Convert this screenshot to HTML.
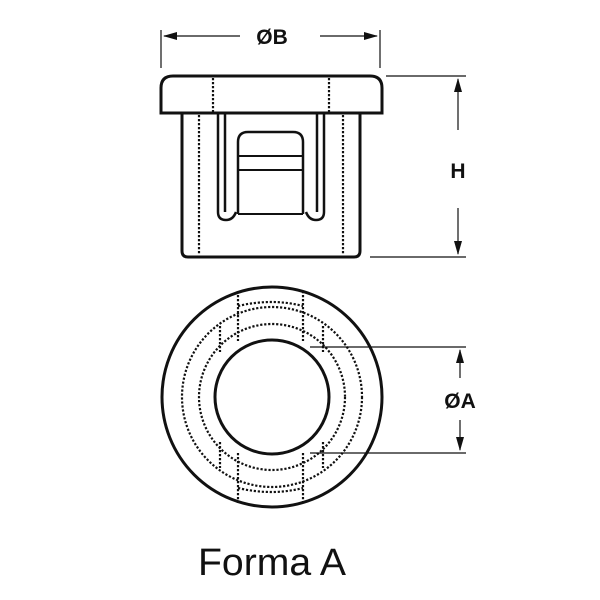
<!DOCTYPE html>
<html><head><style>body{margin:0;background:#fff}svg{display:block}</style></head><body>
<svg width="600" height="600" viewBox="0 0 600 600" xmlns="http://www.w3.org/2000/svg">
<defs><marker id="a" markerWidth="14" markerHeight="8" refX="13" refY="4" orient="auto" markerUnits="userSpaceOnUse"><path d="M0,0 L14,4 L0,8 Z" fill="#111"/></marker></defs>
<g fill="none" stroke="#111">
<line x1="161" y1="30" x2="161" y2="68" stroke-width="1.2"/>
<line x1="380" y1="30" x2="380" y2="68" stroke-width="1.2"/>
<line x1="240" y1="36" x2="164" y2="36" stroke-width="1.2" marker-end="url(#a)"/>
<line x1="320" y1="36" x2="377" y2="36" stroke-width="1.2" marker-end="url(#a)"/>
<line x1="386" y1="76" x2="466" y2="76" stroke-width="1.2"/>
<line x1="370" y1="257" x2="466" y2="257" stroke-width="1.2"/>
<line x1="458" y1="130" x2="458" y2="79" stroke-width="1.2" marker-end="url(#a)"/>
<line x1="458" y1="208" x2="458" y2="254" stroke-width="1.2" marker-end="url(#a)"/>
<path d="M161,113 V88 Q161,76 173,76 H370 Q382,76 382,88 V113 Z" stroke-width="3"/>
<path d="M182,113 V251 Q182,257 188,257 H354 Q360,257 360,251 V113" stroke-width="3"/>
<g stroke-width="2.2" stroke-dasharray="2.2,1.8">
<line x1="213" y1="78" x2="213" y2="112"/><line x1="329" y1="78" x2="329" y2="112"/>
<line x1="199" y1="115" x2="199" y2="255"/><line x1="343" y1="115" x2="343" y2="255"/>
</g>
<path d="M218,113 V212 Q218,220 226,220 Q233,220 236,212" stroke-width="2.5"/>
<line x1="225" y1="113" x2="225" y2="212" stroke-width="2.5"/>
<path d="M324,113 V212 Q324,220 316,220 Q309,220 306,212" stroke-width="2.5"/>
<line x1="317" y1="113" x2="317" y2="212" stroke-width="2.5"/>
<path d="M238,214 V142 Q238,132 248,132 H293 Q303,132 303,142 V214" stroke-width="2.5"/>
<line x1="238" y1="214" x2="303" y2="214" stroke-width="2"/>
<line x1="238" y1="156" x2="303" y2="156" stroke-width="2"/>
<line x1="238" y1="170" x2="303" y2="170" stroke-width="2"/>
<circle cx="272" cy="397" r="110" stroke-width="3"/>
<circle cx="272" cy="397" r="57" stroke-width="3"/>
<g stroke-width="2.2" stroke-dasharray="2.2,1.8">
<circle cx="272" cy="397" r="90"/>
<circle cx="272" cy="397" r="73"/>
<path d="M238,306 Q272,298 303,306"/>
<path d="M238,488 Q272,496 303,488"/>
<line x1="238" y1="291" x2="238" y2="341"/><line x1="303" y1="291" x2="303" y2="341"/>
<line x1="238" y1="453" x2="238" y2="503"/><line x1="303" y1="453" x2="303" y2="503"/>
<line x1="220" y1="326" x2="220" y2="352"/><line x1="323" y1="326" x2="323" y2="352"/>
<line x1="220" y1="442" x2="220" y2="468"/><line x1="323" y1="442" x2="323" y2="468"/>
</g>
<line x1="310" y1="347" x2="466" y2="347" stroke-width="1.2"/>
<line x1="310" y1="453" x2="466" y2="453" stroke-width="1.2"/>
<line x1="460" y1="378" x2="460" y2="350" stroke-width="1.2" marker-end="url(#a)"/>
<line x1="460" y1="420" x2="460" y2="450" stroke-width="1.2" marker-end="url(#a)"/>
</g>
<g font-family="Liberation Sans, sans-serif" font-weight="bold" font-size="21" fill="#111" text-anchor="middle">
<text x="272" y="44">ØB</text>
<text x="458" y="178">H</text>
<text x="460" y="408">ØA</text>
</g>
<text x="272" y="575" font-family="Liberation Sans, sans-serif" font-size="38" fill="#111" text-anchor="middle" textLength="148" lengthAdjust="spacingAndGlyphs">Forma A</text>
</svg>
</body></html>
